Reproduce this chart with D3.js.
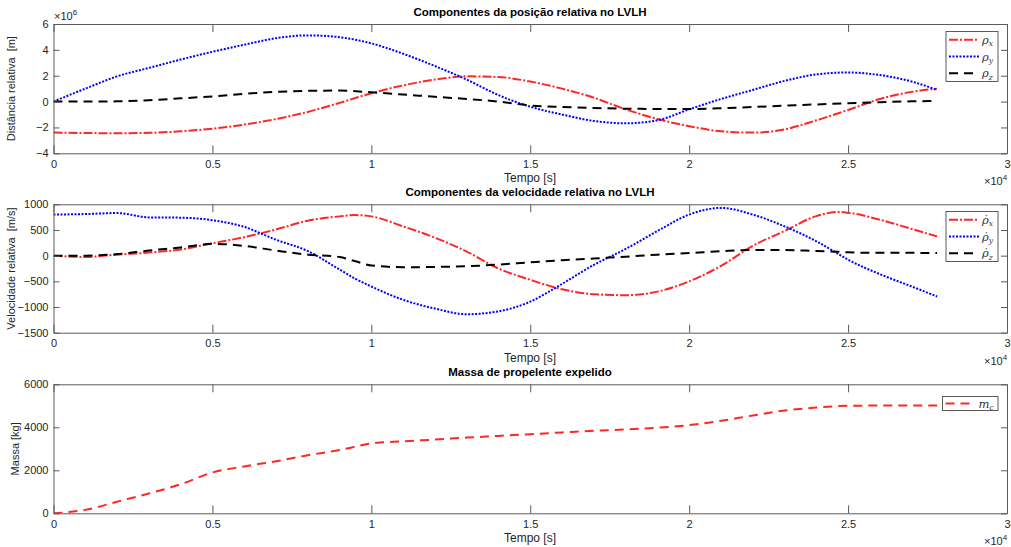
<!DOCTYPE html>
<html><head><meta charset="utf-8">
<script src="https://cdn.jsdelivr.net/npm/d3@7"></script>
<style>
body{margin:0;background:#fff;}
svg{display:block;}
text{font-family:"Liberation Sans",Arial,Helvetica,sans-serif;}
</style></head><body>
<svg id="c" width="1011" height="547"></svg>
<script>
// ---- data (time in units of 1e4 s) ----
const timePos = [0,0.1,0.2,0.3,0.4,0.5,0.6,0.7,0.8,0.9,1.0,1.1,1.2,1.3,1.4,1.5,1.6,1.7,1.8,1.9,2.0,2.1,2.2,2.3,2.4,2.5,2.6,2.7,2.78];
// position components (units of 1e6 m)
const rhoX = [-2.4,-2.43,-2.45,-2.42,-2.3,-2.1,-1.78,-1.35,-0.8,-0.1,0.65,1.25,1.7,1.95,1.9,1.55,1.0,0.3,-0.6,-1.35,-1.9,-2.3,-2.4,-2.15,-1.45,-0.65,0.2,0.75,1.0];
const rhoY = [0,1.0,1.95,2.6,3.25,3.85,4.4,4.9,5.12,4.98,4.5,3.7,2.75,1.7,0.5,-0.4,-1.0,-1.5,-1.68,-1.45,-0.6,0.2,0.9,1.6,2.1,2.25,2.05,1.55,0.9];
const rhoZ = [0,0,0.02,0.1,0.25,0.4,0.6,0.75,0.83,0.85,0.72,0.55,0.37,0.2,0.0,-0.3,-0.42,-0.5,-0.55,-0.57,-0.57,-0.52,-0.42,-0.32,-0.22,-0.13,-0.05,0.02,0.05];
// velocity components (m/s)
const timeVel = [0,0.1,0.2,0.3,0.4,0.5,0.6,0.7,0.8,0.9,0.95,1.0,1.1,1.2,1.3,1.4,1.5,1.6,1.7,1.8,1.9,2.0,2.1,2.2,2.3,2.4,2.47,2.5,2.6,2.7,2.78];
const vX = [0,-25,20,60,120,240,360,510,680,765,790,765,570,350,80,-250,-470,-655,-750,-770,-700,-501,-200,190,480,770,850,835,700,520,375];
const vY = [800,810,830,745,740,690,560,310,90,-270,-450,-600,-860,-1030,-1140,-1085,-895,-550,-180,130,480,800,930,800,570,280,30,-78,-360,-600,-795];
const vZ = [0,0,30,100,160,230,190,100,20,-25,-110,-190,-225,-220,-205,-175,-130,-90,-55,-20,20,50,85,110,110,90,75,65,55,55,50];
// expelled propellant mass (kg)
const timeMass = timePos;
const massExp = [0,160,540,920,1350,1900,2180,2420,2700,2940,3250,3350,3430,3520,3600,3680,3760,3840,3900,3980,4100,4300,4550,4780,4920,5000,5010,5010,5010];

const xTicks = [0,0.5,1,1.5,2,2.5,3];
const xTickLabels = ["0","0.5","1","1.5","2","2.5","3"];
const yTicks1 = [-4,-2,0,2,4,6];
const yTicks2 = [-1500,-1000,-500,0,500,1000];
const yTicks3 = [0,2000,4000,6000];

const titles = ["Componentes da posição relativa no LVLH","Componentes da velocidade relativa no LVLH","Massa de propelente expelido"];
const yLabels = ["Distância relativa  [m]","Velocidade relativa  [m/s]","Massa [kg]"];
const xLabel = "Tempo [s]";

// ---- drawing ----
const svg = d3.select("#c");
const RED="#ff2626", BLUE="#0000ff", BLACK="#000000";
const AX="#5a5a5a", TXT="#262626";
const x = d3.scaleLinear().domain([0,3]).range([53.5,1007]);

const panels = [
  {top:24, bot:153.3, dom:[-4,6], ticks:yTicks1, exp:"6",
   series:[{t:timePos,v:rhoX,c:RED,d:"9,2,2,2",w:2,lab:"ρ",sub:"x"},
           {t:timePos,v:rhoY,c:BLUE,d:"2,1.5",w:2,lab:"ρ",sub:"y"},
           {t:timePos,v:rhoZ,c:BLACK,d:"9,6",w:2,lab:"ρ",sub:"z"}],
   leg:{x0:946,x1:998,y0:31.5,y1:81.5}},
  {top:204.3, bot:332.7, dom:[-1500,1000], ticks:yTicks2, exp:null,
   series:[{t:timeVel,v:vX,c:RED,d:"9,2,2,2",w:2,lab:"ρ̇",sub:"x"},
           {t:timeVel,v:vY,c:BLUE,d:"2,1.5",w:2,lab:"ρ̇",sub:"y"},
           {t:timeVel,v:vZ,c:BLACK,d:"9,6",w:2,lab:"ρ̇",sub:"z"}],
   leg:{x0:946,x1:998,y0:211.5,y1:261.5}},
  {top:384.3, bot:513.3, dom:[0,6000], ticks:yTicks3, exp:null,
   series:[{t:timeMass,v:massExp,c:RED,d:"9,6",w:2,lab:"m",sub:"c"}],
   leg:{x0:942.5,x1:998,y0:396.5,y1:410.5}}
];

panels.forEach((p,i)=>{
  const y = d3.scaleLinear().domain(p.dom).range([p.bot,p.top]);
  const g = svg.append("g");
  const clipId="clip"+i;
  svg.append("clipPath").attr("id",clipId).append("rect")
    .attr("x",x.range()[0]).attr("y",p.top).attr("width",x.range()[1]-x.range()[0]).attr("height",p.bot-p.top);
  const line = d3.line().curve(d3.curveMonotoneX);
  p.series.forEach(s=>{
    const pts = s.t.map((tt,k)=>[x(tt),y(s.v[k])]);
    g.append("path").attr("d",line(pts)).attr("fill","none")
      .attr("stroke",s.c).attr("stroke-width",s.w).attr("stroke-dasharray",s.d)
      .attr("clip-path","url(#"+clipId+")");
  });
  const tl = 8;
  const ax = d3.axisBottom(x).tickValues(xTicks).tickFormat((d,k)=>xTickLabels[k]).tickSizeInner(-tl).tickSizeOuter(0).tickPadding(7);
  const gb = g.append("g").attr("transform",`translate(0,${p.bot})`).call(ax);
  const gt = g.append("g").attr("transform",`translate(0,${p.top})`).call(d3.axisTop(x).tickValues(xTicks).tickFormat("").tickSizeInner(-tl).tickSizeOuter(0));
  const gl = g.append("g").attr("transform",`translate(${x.range()[0]},0)`).call(d3.axisLeft(y).tickValues(p.ticks).tickFormat(d3.format("d")).tickSizeInner(-6).tickSizeOuter(0).tickPadding(5));
  const gr = g.append("g").attr("transform",`translate(${x.range()[1]},0)`).call(d3.axisRight(y).tickValues(p.ticks).tickFormat("").tickSizeInner(-6).tickSizeOuter(0));
  [gb,gt,gl,gr].forEach(a=>{
    a.select(".domain").attr("stroke",AX).attr("stroke-width",1);
    a.selectAll(".tick line").attr("stroke",AX);
    a.selectAll(".tick text").attr("fill",TXT).style("font-size","11px").style("font-family","'Liberation Sans',Arial,sans-serif");
  });
  if(p.exp){
    const t = g.append("text").attr("x",54).attr("y",p.top-4).attr("fill",TXT).style("font-size","11px");
    t.append("tspan").text("×10");
    t.append("tspan").attr("dy",-5).style("font-size","8px").text(p.exp);
  }
  const t4 = g.append("text").attr("x",984).attr("y",p.bot+32).attr("fill",TXT).style("font-size","11px");
  t4.append("tspan").text("×10");
  t4.append("tspan").attr("dy",-5).style("font-size","8px").text("4");
  g.append("text").attr("x",530).attr("y",p.top-8).attr("text-anchor","middle").attr("fill","#000")
    .style("font-size","11.5px").style("font-weight","bold").text(titles[i]);
  g.append("text").attr("x",530).attr("y",p.bot+29).attr("text-anchor","middle").attr("fill",TXT)
    .style("font-size","12px").text(xLabel);
  g.append("text").attr("transform",`translate(${i==2?19:15},${(p.top+p.bot)/2}) rotate(-90)`).attr("text-anchor","middle").attr("fill",TXT)
    .style("font-size","11px").style("white-space","pre").text(yLabels[i]);
  const L = p.leg;
  g.append("rect").attr("x",L.x0).attr("y",L.y0).attr("width",L.x1-L.x0).attr("height",L.y1-L.y0)
    .attr("fill","#fff").attr("stroke",AX).attr("stroke-width",1);
  const n = p.series.length;
  const rowH = (L.y1-L.y0)/n;
  p.series.forEach((s,k)=>{
    const yy = L.y0 + rowH*(k+0.5);
    g.append("line").attr("x1",L.x0+3).attr("x2",L.x0+33).attr("y1",yy).attr("y2",yy)
      .attr("stroke",s.c).attr("stroke-width",s.w).attr("stroke-dasharray",s.d);
    const tx = g.append("text").attr("x",L.x0+36).attr("y",yy+4).attr("fill","#333")
      .style("font-family","'DejaVu Serif','Liberation Serif',serif").style("font-style","italic").style("font-size","11.5px");
    tx.append("tspan").text(s.lab);
    tx.append("tspan").attr("dy",2.5).style("font-size","7.5px").text(s.sub);
  });
});
</script></body></html>
